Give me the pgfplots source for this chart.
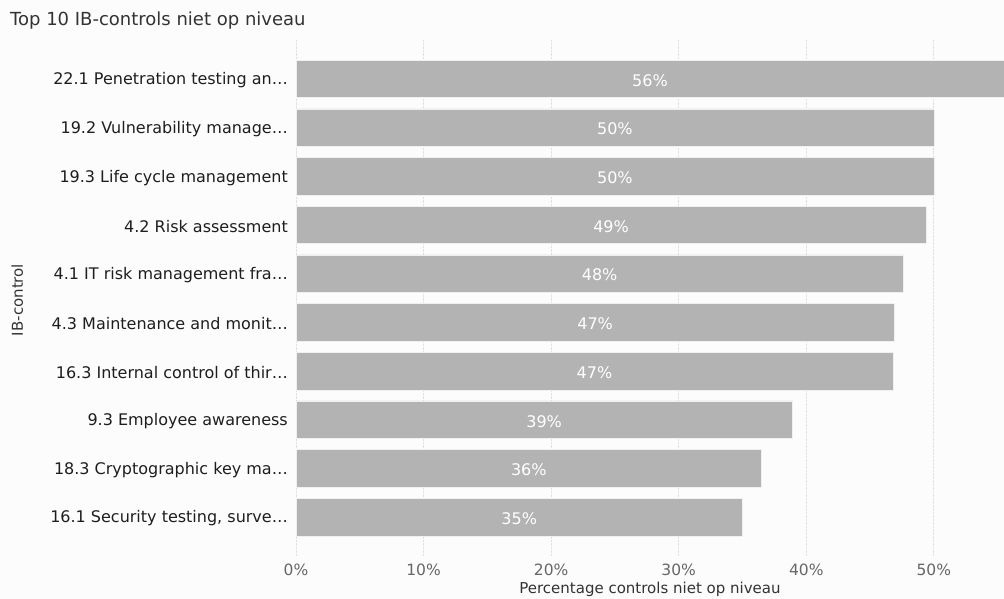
\documentclass[border=0pt]{standalone}
\usepackage{fontspec}
\setmainfont{DejaVu Sans}
\usepackage{pgfplots}
\usepackage{pgfplotstable}
\pgfplotsset{compat=1.18}

\definecolor{bargray}{HTML}{B3B3B3}
\definecolor{bgcol}{HTML}{FCFCFC}
\definecolor{gridcol}{HTML}{E0E0E0}
\definecolor{tickcol}{HTML}{666666}
\definecolor{labcol}{HTML}{1E1E1E}
\definecolor{titlecol}{HTML}{333333}

% idx = row from the top, value in %, lx = where the label sits, lab = label
\pgfplotstableread{
idx value lx    lab
0   56.0  27.75 56
1   50.0  25.0  50
2   50.0  25.0  50
3   49.4  24.7  49
4   47.6  23.8  48
5   46.9  23.45 47
6   46.8  23.4  47
7   38.9  19.45 39
8   36.5  18.25 36
9   35.0  17.5  35
}\datatable

\begin{document}
\begin{tikzpicture}[x=1pt,y=1pt]
  \useasboundingbox (0,0) rectangle (1004,599);
  \fill[bgcol] (0,0) rectangle (1004,599);
  \begin{axis}[
    at={(296pt,43pt)}, anchor=south west,
    scale only axis, width=708pt, height=516pt,
    xmin=0, xmax=55.5,
    ymin=-0.8, ymax=9.8, y dir=reverse,
    xtick={0,10,...,50},
    xticklabel={\pgfmathprintnumber{\tick}\%},
    ytick={0,...,9},
    yticklabels={22.1 Penetration testing an…,
      19.2 Vulnerability manage…,
      19.3 Life cycle management,
      4.2 Risk assessment,
      4.1 IT risk management fra…,
      4.3 Maintenance and monit…,
      16.3 Internal control of thir…,
      9.3 Employee awareness,
      18.3 Cryptographic key ma…,
      {16.1 Security testing, surve…}},
    /pgf/number format/assume math mode=true,
    axis line style={draw=none},
    major tick length=0pt,
    xmajorgrids,
    grid style={densely dotted, gridcol, line width=0.8pt},
    xticklabel style={font=\fontsize{15.5}{18}\selectfont, text=tickcol, yshift=-4pt},
    yticklabel style={font=\fontsize{16}{18}\selectfont, text=labcol, inner sep=0pt, xshift=-8pt, yshift=-1.5pt},
    nodes near coords style={font=\fontsize{16}{18}\selectfont, text=white, yshift=-1.5pt},
  ]
    \addplot[xbar, bar width=0.77, fill=bargray, draw=white!80!bargray, line width=0.5pt]
      table[x=value, y=idx] {\datatable};
    \addplot[draw=none, mark=none, nodes near coords={\pgfmathprintnumber{\pgfplotspointmeta}\%},
      point meta=explicit, nodes near coords align=center]
      table[x=lx, y=idx, meta=lab] {\datatable};
  \end{axis}
  \node[anchor=base west, inner sep=0pt, text=titlecol, font=\fontsize{18}{21}\selectfont] at (10,573) {Top 10 IB-controls niet op niveau};
  \node[anchor=base, inner sep=0pt, text=titlecol, font=\fontsize{15}{18}\selectfont] at (650,5) {Percentage controls niet op niveau};
  \node[anchor=base, rotate=90, inner sep=0pt, text=titlecol, font=\fontsize{15}{18}\selectfont] at (23,299) {IB-control};
\end{tikzpicture}
\end{document}
